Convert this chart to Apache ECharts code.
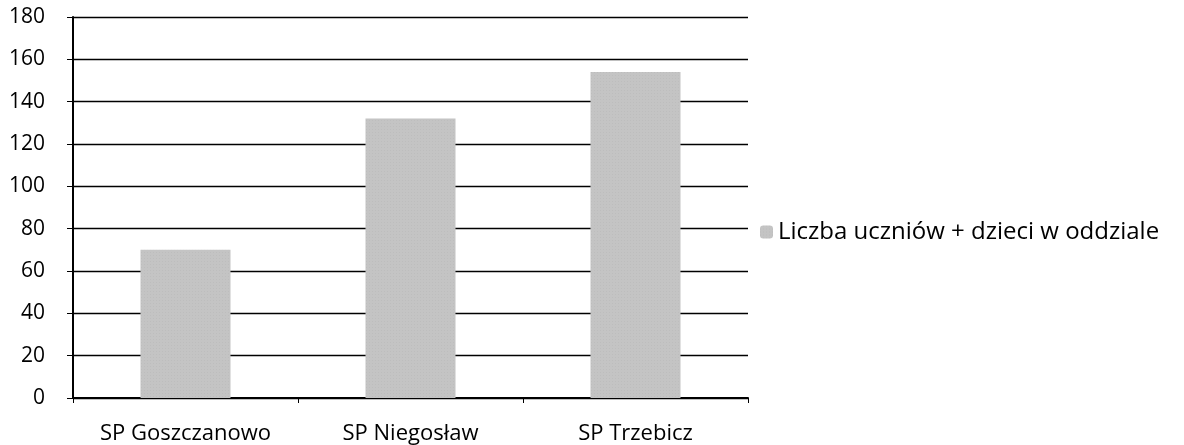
<!DOCTYPE html>
<html><head><meta charset="utf-8">
<script src="https://cdn.jsdelivr.net/npm/echarts@6/dist/echarts.min.js"></script>
<style>html,body{margin:0;padding:0;background:#fff}#c{width:1184px;height:445px}</style>
</head><body><div id="c"></div>
<script>
const categories = ['SP Goszczanowo', 'SP Niegosław', 'SP Trzebicz'];
const values = [70, 132, 154];
const seriesName = 'Liczba uczniów + dzieci w oddziale';
const yMin = 0, yMax = 180, yInterval = 20;

const chart = echarts.init(document.getElementById('c'));
const font = '"Open Sans", sans-serif';
chart.setOption({
  animation: false,
  grid: {left: 73, right: 436, top: 17, bottom: 46, containLabel: false},
  legend: {
    data: [seriesName], orient: 'vertical', left: 755, top: 215,
    itemWidth: 13, itemHeight: 13, itemGap: 5,
    textStyle: {fontFamily: font, fontSize: 24, color: '#000'}
  },
  xAxis: {
    type: 'category', data: categories,
    axisLine: {lineStyle: {color: '#000', width: 2}},
    axisTick: {show: true, length: 5, lineStyle: {color: '#000'}},
    axisLabel: {fontFamily: font, fontSize: 22, color: '#000', margin: 25}
  },
  yAxis: {
    type: 'value', min: yMin, max: yMax, interval: yInterval,
    axisLine: {show: true, lineStyle: {color: '#000', width: 2}},
    axisTick: {show: true, length: 6, lineStyle: {color: '#000'}},
    splitLine: {lineStyle: {color: '#000', width: 1.3}},
    axisLabel: {fontFamily: font, fontSize: 21, color: '#000', margin: 28}
  },
  series: [{
    type: 'bar', name: seriesName, data: values,
    barCategoryGap: '60%',
    itemStyle: {
      color: '#c4c4c4',
      decal: {symbol: 'rect', symbolSize: 0.4, color: 'rgba(110,110,110,0.35)', dashArrayX: [1, 2], dashArrayY: [1, 2], rotation: 0}
    }
  }]
});
</script></body></html>
